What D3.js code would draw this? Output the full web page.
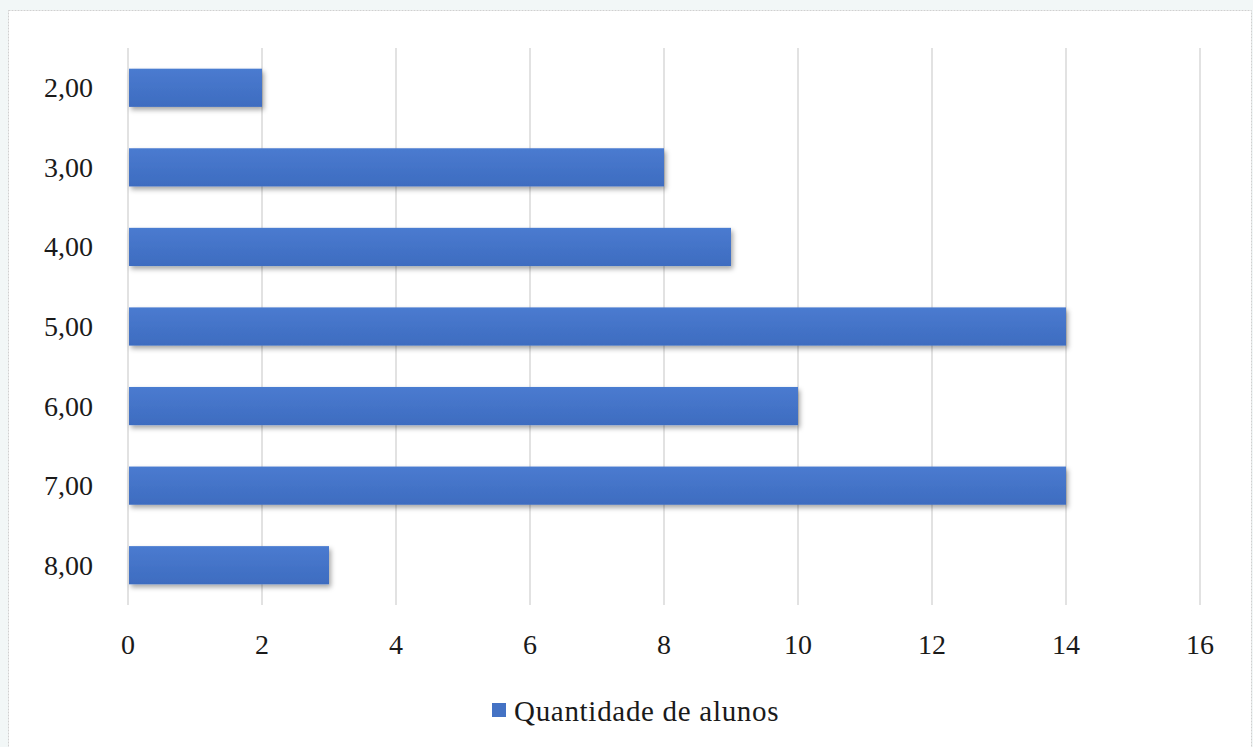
<!DOCTYPE html>
<html>
<head>
<meta charset="utf-8">
<title>Quantidade de alunos</title>
<style>
  body { margin: 0; background: #f2f7f7; font-family: 'Liberation Serif', 'Times New Roman', serif; }
  svg { display: block; }
</style>
<script src="https://d3js.org/d3.v7.min.js"></script>
</head>
<body>
<div id="chart"></div>
<script>
// ******* Data *******
const categories = ["2,00", "3,00", "4,00", "5,00", "6,00", "7,00", "8,00"];
const alunos = [2, 8, 9, 14, 10, 14, 3];
const xTicks = [0, 2, 4, 6, 8, 10, 12, 14, 16];
const seriesName = "Quantidade de alunos";

// ******* Constants *******
const width = 1253, height = 747;
const plot = {left: 128, right: 1200, top: 48, bottom: 605};
const fontsize = 28;

const svg = d3.select("#chart").append("svg")
    .attr("width", width)
    .attr("height", height);

// white panel with dotted grey border
svg.append("rect")
    .attr("x", 8.5).attr("y", 10.5)
    .attr("width", 1243).attr("height", 745)
    .attr("fill", "#ffffff")
    .attr("stroke", "#d0d0d0")
    .attr("stroke-dasharray", "2,1");

const defs = svg.append("defs");
const grad = defs.append("linearGradient")
    .attr("id", "barGrad").attr("x1", 0).attr("y1", 0).attr("x2", 0).attr("y2", 1);
grad.append("stop").attr("offset", "0%").attr("stop-color", "#4a7bd0");
grad.append("stop").attr("offset", "100%").attr("stop-color", "#3e6cc0");

const shadow = defs.append("filter").attr("id", "shadow")
    .attr("x", "-5%").attr("y", "-30%").attr("width", "115%").attr("height", "180%");
shadow.append("feDropShadow")
    .attr("dx", 2).attr("dy", 3).attr("stdDeviation", 2.5)
    .attr("flood-color", "#000").attr("flood-opacity", 0.35);

// ******* Scales *******
const x = d3.scaleLinear().domain([0, 16]).range([plot.left, plot.right]);
const y = d3.scaleBand().domain(categories).range([plot.top, plot.bottom]).paddingInner(0.52).paddingOuter(0.26);

// gridlines
svg.append("g").selectAll("line")
    .data(xTicks)
    .join("line")
    .attr("x1", d => x(d)).attr("x2", d => x(d))
    .attr("y1", plot.top).attr("y2", plot.bottom)
    .attr("stroke", "#d9d9d9")
    .attr("stroke-width", 1.5);

// bars
svg.append("g").selectAll("rect")
    .data(alunos)
    .join("rect")
    .attr("x", x(0) + 1)
    .attr("y", (d, i) => y(categories[i]))
    .attr("width", d => x(d) - x(0) - 1)
    .attr("height", y.bandwidth())
    .attr("fill", "url(#barGrad)")
    .attr("filter", "url(#shadow)");

// category labels
svg.append("g").selectAll("text")
    .data(categories)
    .join("text")
    .text(d => d)
    .attr("x", 93)
    .attr("y", d => y(d) + y.bandwidth() / 2)
    .attr("text-anchor", "end")
    .attr("dominant-baseline", "central")
    .attr("font-size", fontsize)
    .attr("fill", "#1a1a1a");

// x tick labels
svg.append("g").selectAll("text")
    .data(xTicks)
    .join("text")
    .text(d => d)
    .attr("x", d => x(d))
    .attr("y", 644)
    .attr("text-anchor", "middle")
    .attr("dominant-baseline", "central")
    .attr("font-size", fontsize)
    .attr("fill", "#1a1a1a");

// legend
const legend = svg.append("g");
legend.append("rect")
    .attr("x", 492).attr("y", 703)
    .attr("width", 14).attr("height", 14)
    .attr("fill", "#4472c4");
legend.append("text")
    .text(seriesName)
    .attr("x", 514).attr("y", 711)
    .attr("dominant-baseline", "central")
    .attr("font-size", 29)
    .attr("letter-spacing", 0.7)
    .attr("fill", "#1a1a1a");
</script>
</body>
</html>
